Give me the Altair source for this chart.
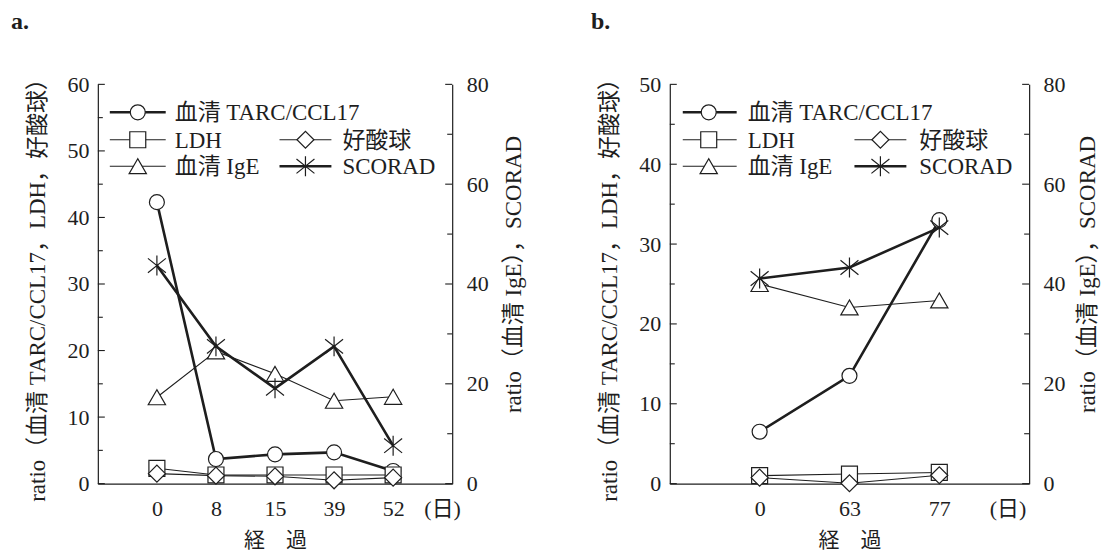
import altair as alt
import pandas as pd

FONT = "Liberation Serif, Noto Sans CJK JP, serif"
INK = "#1e1e1e"

SERIES = ["血清 TARC/CCL17", "LDH", "好酸球", "血清 IgE", "SCORAD"]

# ---- panel a data ----
a_days = ["0", "8", "15", "39", "52"]
a_tarc = [42.3, 3.7, 4.4, 4.7, 1.9]
a_ldh = [2.3, 1.3, 1.3, 1.3, 1.3]
a_eos = [1.5, 1.2, 1.1, 0.5, 0.9]
a_ige = [17.3, 26.5, 22.0, 16.6, 17.4]
a_scorad = [43.7, 27.5, 19.1, 27.5, 7.6]

# ---- panel b data ----
b_days = ["0", "63", "77"]
b_tarc = [6.5, 13.5, 33.0]
b_ldh = [1.0, 1.2, 1.4]
b_eos = [0.75, 0.05, 1.05]
b_ige = [40.0, 35.3, 36.7]
b_scorad = [41.1, 43.3, 51.3]

LEFT_TITLE = "ratio（血清 TARC/CCL17，LDH，好酸球）"
RIGHT_TITLE = "ratio（血清 IgE），SCORAD"
X_TITLE = "経　過"
DAY_UNIT = "(日)"

ASTERISK = "M0,-1L0,1M-0.9,-0.72L0.9,0.72M-0.9,0.72L0.9,-0.72"
STYLE = {
    "血清 TARC/CCL17": dict(shape="circle", size=225, lw=2.6, fill="white"),
    "LDH": dict(shape="square", size=256, lw=1.1, fill="white"),
    "好酸球": dict(shape="diamond", size=289, lw=1.1, fill="white"),
    "血清 IgE": dict(shape="triangle-up", size=300, lw=1.1, fill="white"),
    "SCORAD": dict(shape=ASTERISK, size=400, lw=2.6, fill=None),
}


def pt_kwargs(name):
    st = STYLE[name]
    if st["fill"] is None:
        return dict(shape=st["shape"], size=st["size"], filled=False,
                    stroke=INK, strokeWidth=1.2, opacity=1)
    return dict(shape=st["shape"], size=st["size"], filled=True, fill=st["fill"],
                stroke=INK, strokeWidth=1.2, opacity=1)


def make_panel(days, left_vals, right_vals, left_max, width, height, unit_pos,
               leg, tag, tag_xy, title_x):
    n = len(days)
    arr = "[" + ",".join("'%s'" % d for d in days) + "]"
    xaxis = alt.Axis(
        values=list(range(n)) + [unit_pos],
        labelExpr="datum.value > %s ? '%s' : %s[round(datum.value)]" % (n - 0.5, DAY_UNIT, arr),
        ticks=False, domain=True, domainColor=INK, domainWidth=1.2, grid=False,
        labelFont=FONT, labelFontSize=22, labelColor=INK, labelPadding=25,
        labelBaseline="middle", labelFlush=False, labelOverlap=False, labelBound=False,
        title=X_TITLE, titleFont=FONT, titleFontSize=21, titleFontWeight="normal",
        titleColor=INK, titleX=width / 2, titleY=57, titleBaseline="middle", titleAlign="center",
    )
    x_enc = alt.X("idx:Q", scale=alt.Scale(domain=[-1, n], nice=False, zero=False), axis=xaxis)

    def yaxis(orient, vals, tx, ty, title, pad):
        return alt.Axis(
            orient=orient, values=vals, ticks=False, domain=True, domainColor=INK,
            domainWidth=1.2, grid=False, labelFont=FONT, labelFontSize=22, labelColor=INK,
            labelPadding=pad, labelFlush=False, labelOverlap=False,
            title=title, titleFont=FONT, titleFontSize=23, titleFontWeight="normal",
            titleColor=INK, titleAngle=270, titleX=tx, titleY=ty,
            titleBaseline="middle", titleAlign="center",
        )

    y_left = alt.Y("value:Q", scale=alt.Scale(domain=[0, left_max], nice=False),
                   axis=yaxis("left", list(range(0, left_max + 1, 10)), title_x[0],
                              height / 2, LEFT_TITLE, 9))
    y_right = alt.Y("value:Q", scale=alt.Scale(domain=[0, 80], nice=False),
                    axis=yaxis("right", [0, 20, 40, 60, 80], title_x[1],
                               height / 2 - 10, RIGHT_TITLE, 14))

    def tick_layers(y_enc, major, minor, side):
        out = []
        for vals, ln in ((major, 7), (minor, 5)):
            df = pd.DataFrame({"value": vals})
            if side == "left":
                xx = dict(x=alt.value(0), x2=alt.value(ln))
            else:
                xx = dict(x=alt.value(width - ln), x2=alt.value(width))
            out.append(alt.Chart(df).mark_rule(color=INK, strokeWidth=1.1)
                       .encode(y=y_enc, **xx))
        return out

    left_layers = tick_layers(y_left, list(range(0, left_max + 1, 10)),
                              list(range(5, left_max, 10)), "left")
    for name, vals in zip(SERIES[:3], left_vals):
        df = pd.DataFrame({"idx": list(range(n)), "value": vals})
        left_layers.append(alt.Chart(df).mark_line(color=INK, strokeWidth=STYLE[name]["lw"])
                           .encode(x=x_enc, y=y_left))
        left_layers.append(alt.Chart(df).mark_point(**pt_kwargs(name)).encode(x=x_enc, y=y_left))

    right_layers = tick_layers(y_right, [0, 20, 40, 60, 80], [10, 30, 50, 70], "right")
    for name, vals in zip(SERIES[3:], right_vals):
        df = pd.DataFrame({"idx": list(range(n)), "value": vals})
        right_layers.append(alt.Chart(df).mark_line(color=INK, strokeWidth=STYLE[name]["lw"])
                            .encode(x=x_enc, y=y_right))
        right_layers.append(alt.Chart(df).mark_point(**pt_kwargs(name)).encode(x=x_enc, y=y_right))

    # legend (layout positions in pixels)
    rows, col1, col2 = leg
    slots = [(rows[0], col1), (rows[1], col1), (rows[1], col2), (rows[2], col1), (rows[2], col2)]
    legend_layers = []
    for name, (ry, col) in zip(SERIES, slots):
        d = alt.Data(values=[{"label": name}])
        x0, x1, xm, xt = col
        legend_layers.append(alt.Chart(d).mark_rule(color=INK, strokeWidth=STYLE[name]["lw"])
                             .encode(x=alt.value(x0), x2=alt.value(x1), y=alt.value(ry)))
        legend_layers.append(alt.Chart(d).mark_point(**pt_kwargs(name))
                             .encode(x=alt.value(xm), y=alt.value(ry)))
        legend_layers.append(alt.Chart(d).mark_text(font=FONT, fontSize=23, color=INK,
                                                    align="left", baseline="middle")
                             .encode(text="label:N", x=alt.value(xt), y=alt.value(ry + 1)))

    tag_layer = alt.Chart(alt.Data(values=[{"t": tag}])).mark_text(
        font=FONT, fontSize=24, fontWeight="bold", color=INK, align="left",
        baseline="alphabetic").encode(text="t:N", x=alt.value(tag_xy[0]), y=alt.value(tag_xy[1]))

    chart = alt.layer(
        alt.layer(*left_layers),
        alt.layer(*right_layers),
        *legend_layers,
        tag_layer,
    ).resolve_scale(y="independent").properties(width=width, height=height)
    return chart


leg_a = ([28, 55.5, 82], (12, 68, 40, 77), (182, 234, 208, 245))
leg_b = ([28, 55.5, 82], (13, 67, 39, 78), (185, 237, 211, 250))

panel_a = make_panel(a_days, [a_tarc, a_ldh, a_eos], [a_ige, a_scorad], 60, 355, 400,
                     4.83, leg_a, "a.", (-87, -55), (-60, 61))
panel_b = make_panel(b_days, [b_tarc, b_ldh, b_eos], [b_ige, b_scorad], 50, 360, 400,
                     2.76, leg_b, "b.", (-79, -55), (-60, 58))

chart = alt.hconcat(panel_a, panel_b, spacing=66).properties(
    padding={"left": 3, "top": 2, "right": 5, "bottom": 5},
    background="white",
).configure_view(stroke=None)

chart.save("out.html", embed_options={"renderer": "svg", "actions": False})
